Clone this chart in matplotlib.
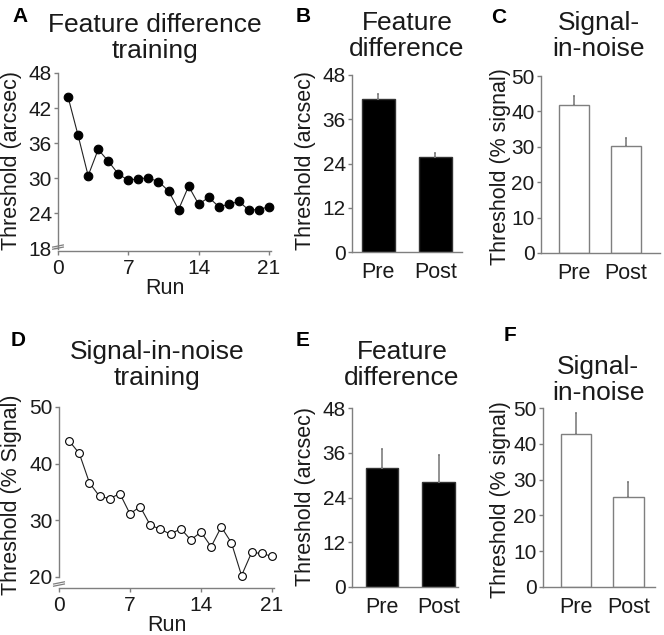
import matplotlib
matplotlib.use("Agg")
import matplotlib.pyplot as plt
import numpy as np

plt.rcParams['font.family'] = ['Liberation Sans', 'DejaVu Sans']

# data
runs = list(range(1, 22))
feat_train = [43.9, 37.3, 30.4, 34.9, 32.9, 30.7, 29.6, 29.9, 30.0, 29.4, 27.8,
              24.6, 28.6, 25.5, 26.7, 25.1, 25.5, 26.0, 24.5, 24.6, 25.1]
sin_train = [44.0, 41.8, 36.6, 34.2, 33.8, 34.7, 31.1, 32.4, 29.1, 28.4, 27.5,
             28.5, 26.5, 27.9, 25.3, 28.8, 26.0, 20.2, 24.3, 24.1, 23.6]

groups = ["Pre", "Post"]
feat_after_feat = [41.5, 25.7]
feat_after_feat_err = [1.4, 1.2]
sin_after_feat = [41.9, 30.2]
sin_after_feat_err = [2.5, 2.4]
feat_after_sin = [32.0, 28.2]
feat_after_sin_err = [5.0, 7.1]
sin_after_sin = [42.7, 25.1]
sin_after_sin_err = [5.9, 4.2]

W, H = 664, 635
GRAY = "#7f7f7f"
TXT = "#1a1a1a"

fig = plt.figure(figsize=(W / 100, H / 100), dpi=100)


def box(left, right, top, bottom):
    return [left / W, 1 - bottom / H, (right - left) / W, (bottom - top) / H]


def style(ax):
    for s in ["top", "right"]:
        ax.spines[s].set_visible(False)
    for s in ["left", "bottom"]:
        ax.spines[s].set_color(GRAY)
        ax.spines[s].set_linewidth(1.0)
    ax.tick_params(direction="out", length=3, width=1, color=GRAY,
                   labelsize=15, labelcolor=TXT, pad=1.5)


def ftext(x, y, s, **kw):
    fig.text(x / W, 1 - y / H, s, **kw)


def line_panel(ax, y, yticks, ylim, filled):
    style(ax)
    ax.plot(runs, y, color="#222222", lw=0.8, marker="o",
            ms=6.2 if filled else 5.6, mfc="black" if filled else "white",
            mec="black", mew=0.8, zorder=3, clip_on=False)
    ax.set_xlim(0, 21.2)
    ax.set_xticks([0, 7, 14, 21])
    ax.set_ylim(*ylim)
    ax.set_yticks(yticks)
    ax.spines["left"].set_bounds(yticks[0] - 0.1, ylim[1])
    # axis break marks
    for dy in (0.0, 0.012):
        ax.plot([-0.025, 0.025], [0.01 + dy, 0.022 + dy], transform=ax.transAxes,
                color=GRAY, lw=0.9, clip_on=False)
    ax.tick_params(axis="x", pad=3)
    ax.set_xlabel("Run", fontsize=15.5, color=TXT, labelpad=0)


def bar_panel(ax, vals, errs, ylim, yticks, xlim, filled):
    style(ax)
    x = np.arange(len(groups))
    ax.bar(x, vals, width=0.58, color="black" if filled else "white",
           edgecolor=GRAY if not filled else "#333333", linewidth=1.0, zorder=2)
    ax.errorbar(x, vals, yerr=[np.zeros(len(vals)), errs], fmt="none",
                ecolor=GRAY, elinewidth=1.2, capsize=1, capthick=1.2, zorder=3)
    ax.set_xlim(*xlim)
    ax.set_ylim(*ylim)
    ax.set_yticks(yticks)
    ax.set_xticks(x)
    ax.set_xticklabels(groups)
    ax.tick_params(axis="x", length=0, pad=7, labelsize=15.5)


# Panel A
axA = fig.add_axes(box(58, 271, 73, 251))
line_panel(axA, feat_train, [18, 24, 30, 36, 42, 48], (17.5, 48), True)

# Panel D
axD = fig.add_axes(box(59, 274, 407, 588))
line_panel(axD, sin_train, [20, 30, 40, 50], (18.0, 50), False)

# Panel B
axB = fig.add_axes(box(352, 462, 75, 252))
bar_panel(axB, feat_after_feat, feat_after_feat_err, (0, 48), [0, 12, 24, 36, 48],
          (-0.46, 1.47), True)

# Panel C
axC = fig.add_axes(box(541, 660, 76, 253))
bar_panel(axC, sin_after_feat, sin_after_feat_err, (0, 50), [0, 10, 20, 30, 40, 50],
          (-0.65, 1.67), False)

# Panel E
axE = fig.add_axes(box(352, 458, 408, 587))
bar_panel(axE, feat_after_sin, feat_after_sin_err, (0, 48), [0, 12, 24, 36, 48],
          (-0.53, 1.34), True)

# Panel F
axF = fig.add_axes(box(543, 655, 408, 587))
bar_panel(axF, sin_after_sin, sin_after_sin_err, (0, 50), [0, 10, 20, 30, 40, 50],
          (-0.64, 1.51), False)

# y labels
ylab = dict(rotation=90, ha="center", va="center", fontsize=15.5, color=TXT)
ftext(12, 160, "Threshold (arcsec)", **ylab)
ftext(306, 160, "Threshold (arcsec)", **ylab)
ftext(501, 167, "Threshold (% signal)", **ylab)
ftext(12, 495, "Threshold (% Signal)", **ylab)
ftext(306, 497, "Threshold (arcsec)", **ylab)
ftext(501, 500, "Threshold (% signal)", **ylab)

# titles
tit = dict(ha="center", va="top", fontsize=19, color=TXT, linespacing=1.1)
ftext(155, 13, "Feature difference\ntraining", **tit)
ftext(407, 11, "Feature\ndifference", **tit)
ftext(599, 11, "Signal-\nin-noise", **tit)
ftext(157, 340, "Signal-in-noise\ntraining", **tit)
ftext(402, 340, "Feature\ndifference", **tit)
ftext(598, 355, "Signal-\nin-noise", **tit)

# panel letters
let = dict(ha="left", va="top", fontsize=15, fontweight="bold", color="black")
ftext(12, 7, "A", **let)
ftext(296, 7, "B", **let)
ftext(491, 8, "C", **let)
ftext(11, 331, "D", **let)
ftext(296, 331, "E", **let)
ftext(504, 326, "F", **let)

fig.savefig("out.png", dpi=100)
